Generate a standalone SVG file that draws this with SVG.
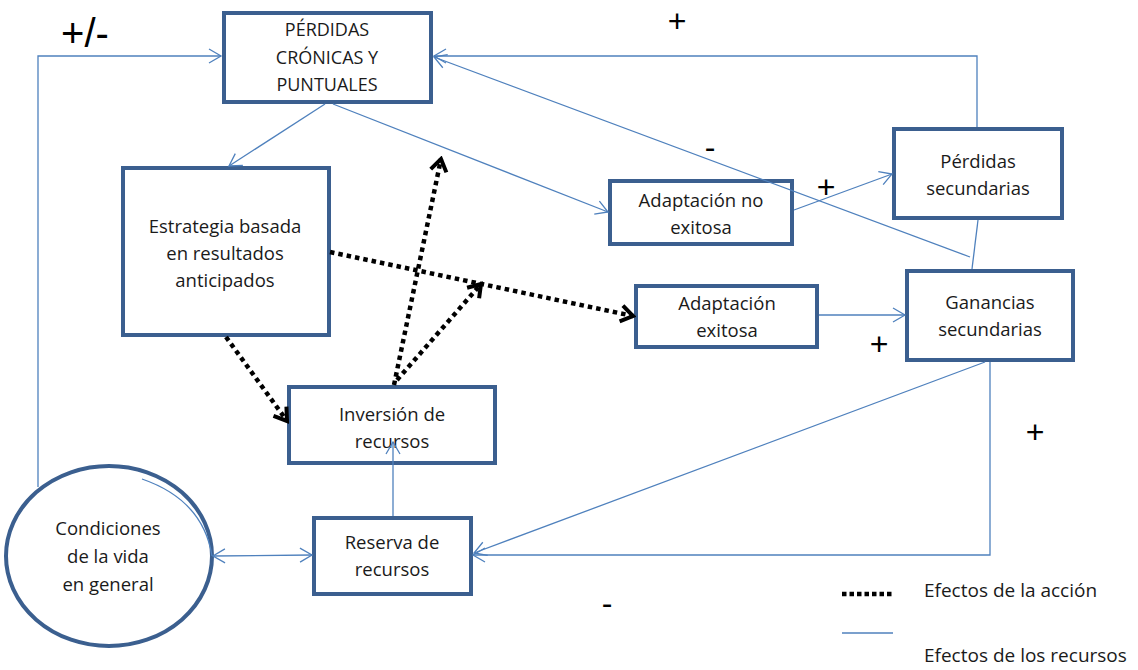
<svg xmlns="http://www.w3.org/2000/svg" width="1138" height="670" viewBox="0 0 1138 670">
  <style>
    .box { fill: #ffffff; stroke: #3b5f8f; stroke-width: 4; }
    .lbl { font-family: "Open Sans", "Liberation Sans", sans-serif; font-size: 18.5px; fill: #1a1a1a; text-anchor: middle; dominant-baseline: central; }
    .caps { font-size: 18px; }
    .sign { font-family: "Liberation Sans", "DejaVu Sans", sans-serif; font-size: 32px; fill: #000; text-anchor: middle; dominant-baseline: central; }
    .big { font-size: 40px; }
    .res { fill: none; stroke: #4f81bd; stroke-width: 1.3; }
    .act { fill: none; stroke: #000; stroke-width: 4.5; stroke-dasharray: 4.5 4; }
    .legend { font-family: "Open Sans", "Liberation Sans", sans-serif; font-size: 19px; fill: #1a1a1a; dominant-baseline: central; }
  </style>
  <defs>
    <marker id="openBlue" viewBox="-14 -9 16 18" refX="0" refY="0" markerWidth="16" markerHeight="18" markerUnits="userSpaceOnUse" orient="auto-start-reverse">
      <path d="M-12,-7 L0,0 L-12,7" fill="none" stroke="#4f81bd" stroke-width="1.3"/>
    </marker>
    <marker id="openBlack" viewBox="-16 -11 19 22" refX="0" refY="0" markerWidth="19" markerHeight="22" markerUnits="userSpaceOnUse" orient="auto">
      <path d="M-12,-8 L0,0 L-12,8" fill="none" stroke="#000" stroke-width="4" stroke-linejoin="miter"/>
    </marker>
  </defs>

  <rect width="1138" height="670" fill="#ffffff"/>

  <g id="perdidas-cronicas">
    <rect class="box" x="224" y="13" width="207" height="89"/>
    <text class="lbl caps" x="327" y="29">PÉRDIDAS</text>
    <text class="lbl caps" x="327" y="57">CRÓNICAS Y</text>
    <text class="lbl caps" x="327" y="84">PUNTUALES</text>
  </g>

  <g id="estrategia">
    <rect class="box" x="123" y="168" width="206" height="167"/>
    <text class="lbl" x="225" y="225">Estrategia  basada</text>
    <text class="lbl" x="225" y="252">en resultados</text>
    <text class="lbl" x="225" y="279">anticipados</text>
  </g>

  <g id="adaptacion-no-exitosa">
    <rect class="box" x="610" y="181" width="182" height="63"/>
    <text class="lbl" x="701" y="199">Adaptación no</text>
    <text class="lbl" x="701" y="226">exitosa</text>
  </g>

  <g id="perdidas-secundarias">
    <rect class="box" x="894" y="129" width="168" height="89"/>
    <text class="lbl" x="978" y="160">Pérdidas</text>
    <text class="lbl" x="978" y="187">secundarias</text>
  </g>

  <g id="adaptacion-exitosa">
    <rect class="box" x="636" y="286" width="181" height="61"/>
    <text class="lbl" x="727" y="302">Adaptación</text>
    <text class="lbl" x="727" y="329">exitosa</text>
  </g>

  <g id="ganancias-secundarias">
    <rect class="box" x="907" y="271" width="166" height="89"/>
    <text class="lbl" x="990" y="301">Ganancias</text>
    <text class="lbl" x="990" y="328">secundarias</text>
  </g>

  <g id="inversion">
    <rect class="box" x="289" y="387" width="206" height="76"/>
    <text class="lbl" x="392" y="413">Inversión de</text>
    <text class="lbl" x="392" y="440">recursos</text>
  </g>

  <g id="reserva">
    <rect class="box" x="314" y="518" width="157" height="76"/>
    <text class="lbl" x="392" y="541">Reserva de</text>
    <text class="lbl" x="392" y="568">recursos</text>
  </g>

  <g id="condiciones">
    <ellipse class="box" cx="109" cy="556" rx="103" ry="90"/>
    <text class="lbl" x="108" y="527">Condiciones</text>
    <text class="lbl" x="108" y="555">de la vida</text>
    <text class="lbl" x="108" y="583">en general</text>
  </g>

  <!-- resource effects (solid blue) and action effects (dotted black), drawn over the nodes -->
  <g id="connectors">
    <polyline class="res" points="38,487 38,56 221,56" marker-end="url(#openBlue)"/>
    <polyline class="res" points="977,127 977,56 434,56" marker-end="url(#openBlue)"/>
    <line class="res" x1="970" y1="257" x2="434" y2="57" marker-end="url(#openBlue)"/>
    <line class="res" x1="978" y1="220" x2="972" y2="269"/>
    <line class="res" x1="325" y1="104" x2="229" y2="166" marker-end="url(#openBlue)"/>
    <line class="res" x1="333" y1="104" x2="608" y2="212" marker-end="url(#openBlue)"/>
    <line class="res" x1="794" y1="210" x2="892" y2="174" marker-end="url(#openBlue)"/>
    <line class="res" x1="819" y1="315" x2="905" y2="315" marker-end="url(#openBlue)"/>
    <polyline class="res" points="990,362 990,555 473,555" marker-end="url(#openBlue)"/>
    <line class="res" x1="985" y1="362" x2="474" y2="553" marker-end="url(#openBlue)"/>
    <line class="res" x1="393" y1="516" x2="393" y2="442" marker-end="url(#openBlue)"/>
    <line class="res" x1="213" y1="556" x2="312" y2="555" marker-start="url(#openBlue)" marker-end="url(#openBlue)"/>
    <path class="res" d="M142,479 Q203,500 212,556"/>

    <line class="act" x1="226" y1="337" x2="287" y2="421" marker-end="url(#openBlack)"/>
    <line class="act" x1="394" y1="385" x2="441" y2="159" marker-end="url(#openBlack)"/>
    <line class="act" x1="397" y1="380" x2="481" y2="284" marker-end="url(#openBlack)"/>
    <line class="act" x1="330" y1="252" x2="633" y2="316" marker-end="url(#openBlack)"/>
  </g>

  <!-- polarity signs -->
  <g id="signs">
    <text class="sign big" x="85" y="33">+/-</text>
    <text class="sign" x="677" y="21">+</text>
    <text class="sign" x="710" y="147">-</text>
    <text class="sign" x="826" y="187">+</text>
    <text class="sign" x="879" y="344">+</text>
    <text class="sign" x="1035" y="432">+</text>
    <text class="sign" x="607" y="603">-</text>
  </g>

  <g id="legend">
    <line x1="842" y1="594" x2="893" y2="594" stroke="#000" stroke-width="4.5" stroke-dasharray="4.5 3"/>
    <text class="legend" x="924" y="590">Efectos de la acción</text>
    <line x1="842" y1="633" x2="893" y2="633" stroke="#4f81bd" stroke-width="1.3"/>
    <text class="legend" x="924" y="655">Efectos de los recursos</text>
  </g>
</svg>
